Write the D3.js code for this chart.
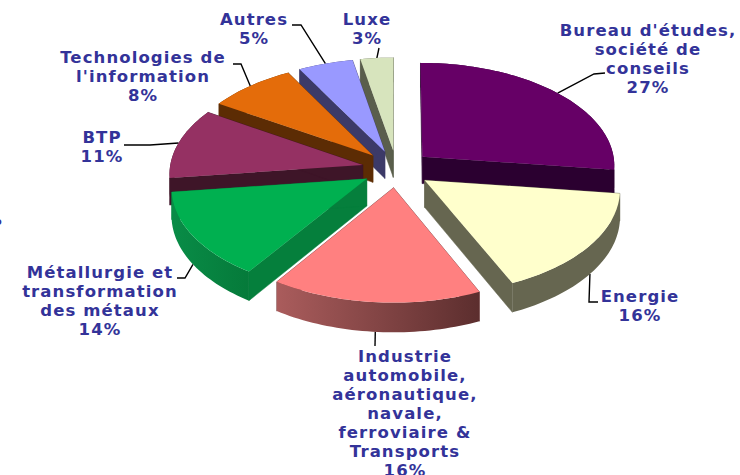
<!DOCTYPE html>
<html>
<head>
<meta charset="utf-8">
<script src="https://cdn.jsdelivr.net/npm/d3@7"></script>
<style>
	html, body { margin: 0; padding: 0; background: #fff; overflow: hidden; }
	svg { display: block; }
	text { font-family: "DejaVu Sans", Verdana, sans-serif; font-weight: bold; fill: #333399; letter-spacing: 1.1px; }
</style>
</head>
<body>
<div id="chart"></div>
<script>
//////////////////////////// data /////////////////////////////////////////

const categories = [
	"Bureau d'études,\nsociété de\nconseils",
	"Energie",
	"Industrie\nautomobile,\naéronautique,\nnavale,\nferroviaire &\nTransports",
	"Métallurgie et\ntransformation\ndes métaux",
	"BTP",
	"Technologies de\nl'information",
	"Autres",
	"Luxe"
];
// the labels show them rounded
const shares = [27, 16.3, 16.1, 13.6, 11, 8, 5, 3];

//////////////////////////// colors ///////////////////////////////////////

const topColors = ["#660066", "#ffffcc", "#ff8080", "#00b050", "#953163", "#e46c0a", "#9999ff", "#d7e4bd"];
const sideColors = ["#2b0030", "#666650", "#6b3434", "#057f3c", "#3e1528", "#5c2c04", "#3c3a68", "#5a5e4c"];
const rimLeft = ["#2b0030", "#666650", "#aa5c5c", "#098c47", "#3e1528", "#5c2c04", "#3c3a68", "#5a5e4c"];
const rimRight = ["#2b0030", "#666650", "#5c2e2e", "#057a3a", "#3e1528", "#5c2c04", "#3c3a68", "#5a5e4c"];

//////////////////////////// layout ///////////////////////////////////////

const width = 740;
const height = 475;
const center = { x: 396.5, y: 169 };
const radiusX = 193;
const radiusY = 103;
const explode = 0.18;
const perspective = 0.077;
const depth = 27;

// back to front, slices overlap each other in this order
const paintOrder = [7, 6, 5, 0, 4, 1, 3, 2];

// label centre + first baseline, leader elbow points, leader starts on the lower rim or not
const fontSize = 16.5;
const lineHeight = 19;
const labelLayout = [
	{ x: 648, y: 36, elbow: [[594, 74], [605, 73]], lower: false },
	{ x: 640, y: 302, elbow: [[589, 302], [598, 302]], lower: true },
	{ x: 405, y: 362, elbow: [[375, 346]], lower: true },
	{ x: 100, y: 278, elbow: [[185, 278], [177, 278]], lower: true },
	{ x: 102, y: 143, elbow: [[150, 145], [124, 145]], lower: false },
	{ x: 143, y: 63, elbow: [[241, 64], [233, 64]], lower: false },
	{ x: 254, y: 25, elbow: [[301, 25], [292, 25]], lower: false },
	{ x: 367, y: 25, elbow: [[379, 48]], lower: false }
];

//////////////////////////// projection ///////////////////////////////////

const scaleU = d3.scaleLinear().domain([0, 1]).range([0, radiusX]);
const scaleV = d3.scaleLinear().domain([0, 1]).range([0, radiusY]);

// u = right, v = towards the viewer, front of the plate gets bigger
const project = (u, v, lower) => {
	const p = 1 / (1 - perspective * v);
	return [
		center.x + scaleU(u) * p,
		center.y + scaleV(v) * p + (lower ? depth * p : 0)
	];
};

const pieData = d3.pie().sort(null).startAngle(0).endAngle(2 * Math.PI)(shares);

const offsetOf = (d) => {
	const mid = (d.startAngle + d.endAngle) / 2;
	return [explode * Math.sin(mid), -explode * Math.cos(mid)];
};

const rimPoint = (d, angle, lower) => {
	const [ou, ov] = offsetOf(d);
	return project(ou + Math.sin(angle), ov - Math.cos(angle), lower);
};

const apexPoint = (d, lower) => {
	const [ou, ov] = offsetOf(d);
	return project(ou, ov, lower);
};

const arcAngles = (d) => {
	const n = Math.max(6, Math.ceil((d.endAngle - d.startAngle) * 40));
	return d3.range(n + 1).map((i) => d.startAngle + ((d.endAngle - d.startAngle) * i) / n);
};

const line = d3.line();

//////////////////////////// plot /////////////////////////////////////////

const svg = d3
	.select("#chart")
	.append("svg")
	.attr("width", width)
	.attr("height", height);

const defs = svg.append("defs");
pieData.forEach((d, i) => {
	const grad = defs
		.append("linearGradient")
		.attr("id", "rim" + i)
		.attr("x1", "0%")
		.attr("x2", "100%")
		.attr("y1", "0%")
		.attr("y2", "0%");
	grad.append("stop").attr("offset", "0%").attr("stop-color", rimLeft[i]);
	grad.append("stop").attr("offset", "100%").attr("stop-color", rimRight[i]);
});

// leader lines go under the slices
const leaders = svg.append("g").attr("class", "leaders");

paintOrder.forEach((i) => {
	const d = pieData[i];
	const g = svg.append("g").attr("class", "slice");
	const angles = arcAngles(d);

	// radial walls
	[d.startAngle, d.endAngle].forEach((a) => {
		g.append("path")
			.attr("d", line([apexPoint(d, false), rimPoint(d, a, false), rimPoint(d, a, true), apexPoint(d, true)]) + "Z")
			.attr("fill", sideColors[i])
			.attr("stroke", sideColors[i])
			.attr("stroke-width", 0.5);
	});

	// outer wall
	const outer = angles
		.map((a) => rimPoint(d, a, false))
		.concat(angles.slice().reverse().map((a) => rimPoint(d, a, true)));
	g.append("path")
		.attr("d", line(outer) + "Z")
		.attr("fill", `url(#rim${i})`);

	// top
	const top = [apexPoint(d, false)].concat(angles.map((a) => rimPoint(d, a, false)));
	g.append("path")
		.attr("d", line(top) + "Z")
		.attr("fill", topColors[i]);
});

pieData.forEach((d, i) => {
	const layout = labelLayout[i];
	const mid = (d.startAngle + d.endAngle) / 2;
	const pts = [rimPoint(d, mid, layout.lower)].concat(layout.elbow);
	leaders
		.append("path")
		.attr("d", line(pts))
		.attr("fill", "none")
		.attr("stroke", "#000")
		.attr("stroke-width", 1.4);

	const lines = categories[i].split("\n").concat(Math.round(shares[i]) + "%");
	svg.append("text")
		.attr("text-anchor", "middle")
		.attr("font-size", fontSize)
		.selectAll("tspan")
		.data(lines)
		.join("tspan")
		.attr("x", layout.x)
		.attr("y", (t, k) => layout.y + k * lineHeight)
		.text((t) => t);
});

// piece of a clipped label on the left border
svg.append("text")
	.attr("x", 3)
	.attr("y", 225)
	.attr("text-anchor", "end")
	.attr("font-size", fontSize)
	.text("%");
</script>
</body>
</html>
